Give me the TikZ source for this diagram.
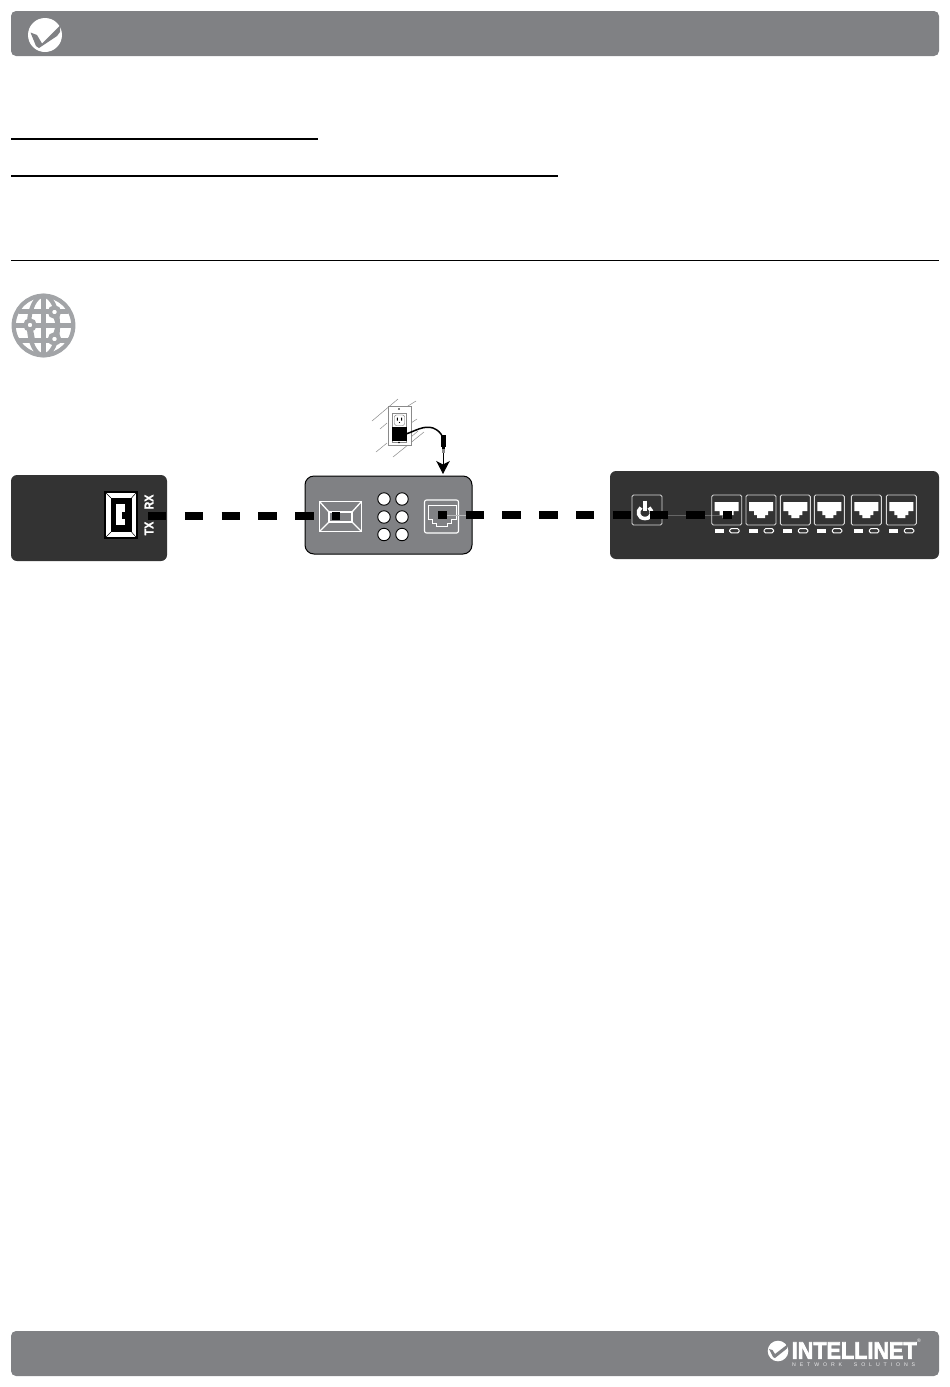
\documentclass[tikz,border=0pt]{standalone}
\usepackage{fontspec}
\setmainfont{Liberation Sans}
\newfontfamily\heavyfont[FakeBold=1.6]{Liberation Sans Bold}
\newfontfamily\heaviestfont[FakeBold=3]{Liberation Sans Bold}
\usetikzlibrary{arrows.meta}
\definecolor{bargray}{HTML}{808184}
\definecolor{darkpanel}{HTML}{333333}
\definecolor{globegray}{HTML}{A2A4A7}
\definecolor{hatch}{HTML}{8A8A8A}
\tikzset{
  bar/.style={fill=bargray,rounded corners=5pt},
  rulethin/.style={line width=1pt,black},
  rulethick/.style={line width=1.7pt,black},
  panel/.style={fill=darkpanel,rounded corners=6pt},
  portbox/.style={draw=white!85!black,line width=.9pt,rounded corners=1.5pt},
  led/.style={circle,draw=black,fill=white,line width=.9pt,minimum size=12.5pt,inner sep=0pt},
  fibre/.style={line width=8pt,black,dash pattern=on 18.4pt off 18.4pt},
  globeline/.style={draw=globegray,line width=4.2pt},
  hatchline/.style={draw=hatch,line width=.5pt},
  vtext/.style={rotate=90,text=white,font=\heavyfont\fontsize{12.5}{12.5}\selectfont,inner sep=0pt},
}
\newcommand{\switchport}[2]{%
  \draw[portbox] (#1,495) rectangle +(30,30);
  \fill[white] (#1+3,502) -- (#1+27,502) -- (#1+27,511) -- (#1+22,511) -- (#1+22,515) -- (#1+19,515) -- (#1+19,518) -- (#1+11,518) -- (#1+11,515) -- (#1+8,515) -- (#1+8,511) -- (#1+3,511) -- cycle;
  \fill[white] (#1+3,528.7) rectangle +(9,4);
  \draw[white,line width=1pt,rounded corners=1.5pt] (#1+18,528.7) rectangle +(9.5,4.2);
}
\begin{document}
\begin{tikzpicture}[x=1pt,y=-1pt]
\useasboundingbox (0,0) rectangle (950,1387);
% bars
\fill[bar] (11,11) rectangle (939,56);
\fill[bar] (11,1331) rectangle (939,1376);
% header check
\fill[white] (45,35) circle (17);
\fill[bargray] (30.5,32.5) -- (37,35) -- (42,43.5) -- (60.5,25) -- (60,32) -- (57,36) -- (39,48) -- (36,46) -- cycle;
% rules
\draw[rulethick] (11,139) -- (318,139);
\draw[rulethick] (11,176) -- (558,176);
\draw[rulethin] (11,260.5) -- (939,260.5);
% globe
\begin{scope}
\draw[globeline] (43.5,325.5) circle (29.8);
\draw[globeline] (43.5,325.5) ellipse (14.5 and 29.8);
\draw[globeline] (43.5,295.5) -- (43.5,355.5);
\draw[globeline] (19,311.5) -- (68,311.5);
\draw[globeline] (13.5,325.5) -- (73.5,325.5);
\draw[globeline] (19,340.5) -- (68,340.5);
\draw[globeline] (30,325) -- (33,340) (54,312) -- (58,325) -- (54,339);
\draw[globeline,fill=white] (30,325) circle (4.6);
\draw[globeline,fill=white] (54.5,312) circle (4.6);
\draw[globeline,fill=white] (54.5,339) circle (4.6);
\end{scope}
% left unit
\fill[panel] (11,475) rectangle (167,561);
\fill[black] (104,491) rectangle (138,539);
\fill[white] (106,493) rectangle (136,537);
\fill[black] (111,498) rectangle (131.5,532);
\draw[black,line width=.5pt] (106,493) -- (111,498) (136,493) -- (131.5,498) (106,537) -- (111,532) (136,537) -- (131.5,532);
\fill[white] (115.7,504) rectangle (125,525);
\fill[black] (121.7,512) rectangle (125.2,518.5);
\node[vtext] (rx) at (149,502) {\scalebox{.85}[1]{RX}};
\node[vtext] (tx) at (149,528.5) {\scalebox{.85}[1]{TX}};
% media converter
\draw[fill=bargray,draw=black,line width=1pt,rounded corners=9pt] (305,476) rectangle (472,554);
\draw[white,line width=1.5pt] (319.5,501.5) rectangle (361.5,531.5);
\draw[white,line width=1.3pt] (329,512) rectangle (352,522);
\draw[white,line width=1.3pt] (319.5,501.5) -- (329,512) (361.5,501.5) -- (352,512) (319.5,531.5) -- (329,522) (361.5,531.5) -- (352,522);
\foreach \n/\a/\b in {a/384/499,b/402/499,c/384/517,d/402/517,e/384/534.5,f/402/534.5}
  \node[led] (led\n) at (\a,\b) {};
\draw[white,line width=1.1pt,rounded corners=2pt] (424.5,500) rectangle (458.5,533);
\draw[white,line width=1pt] (428,505) -- (456,505) -- (456,519) -- (451,519) -- (451,523) -- (447,523) -- (447,526) -- (436,526) -- (436,523) -- (432,523) -- (432,519) -- (428,519) -- cycle;
\draw[white!45!bargray,line width=.4pt] (447,515) -- (466,515);
% wall outlet
\draw[hatchline] (372,421) -- (398,399) (400,411) -- (416,401) (380,429) -- (387,423) (411,423) -- (417,419) (376,452) -- (387,443) (393,457) -- (424,432) (411,437) -- (418,431);
\draw[fill=white,draw=hatch,line width=.9pt] (388,406) rectangle (411,445);
\draw[draw=hatch,line width=.6pt] (392.5,413) rectangle (406.5,442);
\draw[black!60,line width=.4pt,rounded corners=2pt] (394.5,415) rectangle (404.5,425.5);
\fill[black] (396.8,417.5) rectangle +(1,3.2) (401.2,417.5) rectangle +(1,3.2);
\fill[black] (399.5,422.5) circle (.7);
\fill[black] (392,427) rectangle (407,441);
\fill[black] (399,409) circle (.9) (399,442.5) circle (.9);
\coordinate (adapter) at (406,434);
\draw[black,line width=1.5pt] (adapter) .. controls (415,431) and (424,425) .. (433,428) .. controls (438,430) and (441,433) .. (442.5,437);
\fill[black] (440.5,435) rectangle (445.5,446.5);
\fill[black] (441.5,446.5) rectangle (444.5,449);
\fill[hatch] (441.5,449) rectangle (444.5,453);
\coordinate (plugtip) at (443,453);
\coordinate (mcpower) at (443,474);
\draw[black,line width=1pt,-{Stealth[length=13pt,width=13.5pt,inset=3.5pt]}] (plugtip) -- (mcpower);
% switch
\fill[panel] (610,471) rectangle (939,559);
\draw[white!25!darkpanel,line width=.5pt] (665,515) -- (722,515);
\draw[portbox] (632,495) rectangle (662,525);
\draw[white,line width=3.6pt] (641,507.5) .. controls (636.5,511) and (638,518.5) .. (645,518.5) .. controls (652,518.5) and (653.5,511) .. (649,507.5);
\draw[white,line width=3.4pt] (645,500.5) -- (645,511);
\foreach \x in {711.7,746,780.3,814.3,851.3,886.3} {\switchport{\x}{}}
% fibre runs
\coordinate (lstart) at (148,516);
\coordinate (lend) at (340,516);
\coordinate (rstart) at (438,515);
\coordinate (rend) at (732,515);
\draw[fibre] (lstart) -- (lend);
\draw[fibre,dash phase=9.2pt] (rstart) -- (rend);
% footer logo
\fill[white] (778,1351) circle (10.3);
\fill[bargray] (769,1349) -- (772.5,1350) -- (775,1354) -- (788,1344) -- (787,1348.5) -- (775,1358) -- (773,1357) -- cycle;
\node[anchor=west,inner sep=0pt,text=white] (logo) at (791.5,1350.5) {\resizebox{125pt}{16.5pt}{\heaviestfont INTELLINET}};
\node[anchor=west,inner sep=0pt,text=white!85!bargray,font=\fontsize{5.2}{5.2}\selectfont] (tagline) at (792,1365) {\makebox[123pt][s]{N\hfil E\hfil T\hfil W\hfil O\hfil R\hfil K\hfil\hfil\hfil S\hfil O\hfil L\hfil U\hfil T\hfil I\hfil O\hfil N\hfil S}};
\node[inner sep=0pt,text=white,font=\fontsize{5}{5}\selectfont] (reg) at (919,1341) {®};
\end{tikzpicture}
\end{document}
